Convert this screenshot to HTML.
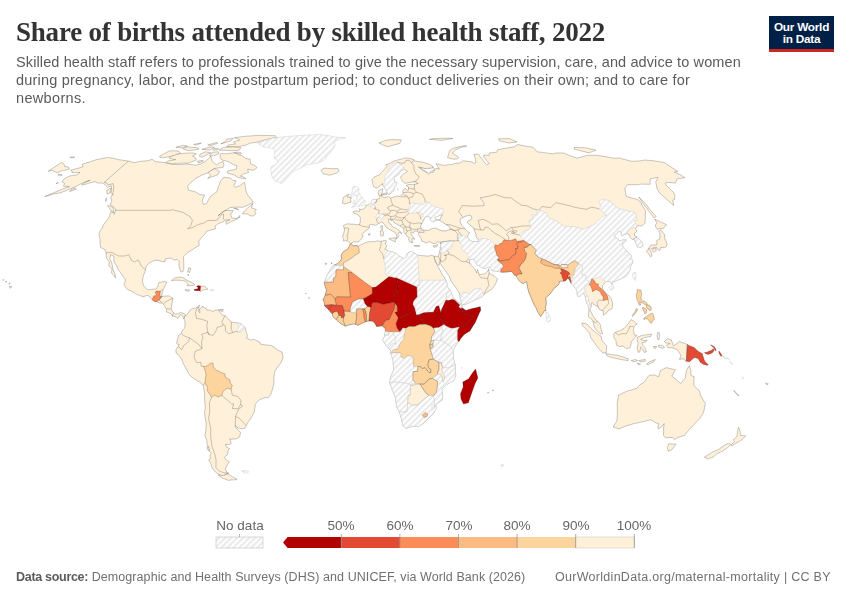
<!DOCTYPE html>
<html><head><meta charset="utf-8">
<style>
html,body{margin:0;padding:0;background:#fff;width:850px;height:600px;overflow:hidden;position:relative;font-family:"Liberation Sans",sans-serif}
.t{position:absolute;white-space:nowrap;will-change:transform}
#title{left:16px;top:17px;font-family:"Liberation Serif",serif;font-weight:bold;font-size:27px;color:#333;letter-spacing:-0.208px}
.sub{left:16px;font-size:14.5px;color:#5b5b5b;line-height:18px}
#logo{position:absolute;left:769px;top:16px;width:65px;height:33px;background:#002147;border-bottom:3px solid #ce261e;color:#fff;font-weight:bold;font-size:11.8px;line-height:12.2px;text-align:center}
#logo div{padding-top:4.5px;letter-spacing:-0.25px}
.lg{font-size:13.5px;color:#666;transform:translateX(-50%)}
.foot{top:570px;font-size:12.5px;color:#707070}
svg{position:absolute;left:0;top:0}
.cs{stroke:#000;stroke-opacity:0.42;stroke-width:0.5}
.hs{stroke:#cfcfcf;stroke-width:0.5}
.ws{stroke:#8f8a86;stroke-width:0.5}
.bl{fill:none;stroke:#000;stroke-opacity:0.42;stroke-width:0.5}
</style></head><body>
<div id="title" class="t">Share of births attended by skilled health staff, 2022</div>
<div class="t sub" style="top:53px;letter-spacing:0.112px">Skilled health staff refers to professionals trained to give the necessary supervision, care, and advice to women</div>
<div class="t sub" style="top:71px;letter-spacing:0.209px">during pregnancy, labor, and the postpartum period; to conduct deliveries on their own; and to care for</div>
<div class="t sub" style="top:89px;letter-spacing:0.33px">newborns.</div>
<div id="logo"><div>Our World<br>in Data</div></div>
<svg width="850" height="600" viewBox="0 0 850 600">
<defs>
<pattern id="hatch" patternUnits="userSpaceOnUse" width="4.24" height="4.24" patternTransform="rotate(45)">
<rect width="4.24" height="4.24" fill="#ffffff"/>
<rect x="0" y="0" width="2.1" height="4.24" fill="#eaeaea"/>
</pattern>
</defs>
<g id="map">
<path d="M70.7,170.1L79.9,167.8L82.9,166.7L82.4,164.0L90.8,161.6L96.5,159.6L107.5,157.5L113.6,158.3L118.3,159.6L128.4,161.1L134.0,162.7L140.6,161.3L148.0,160.7L152.3,159.2L155.3,161.6L164.4,162.5L170.4,164.0L178.3,164.7L186.5,164.0L195.7,165.2L200.5,164.0L205.5,161.3L210.8,156.4L212.2,161.3L216.4,164.7L223.0,161.3L224.0,164.7L223.0,167.4L214.1,168.5L209.1,172.4L201.3,175.4L194.7,178.9L187.6,186.0L188.5,190.2L194.8,191.6L199.8,194.5L204.7,195.0L202.2,200.2L203.5,204.5L206.4,203.7L210.3,196.5L217.0,191.6L218.3,186.8L220.4,181.3L223.7,177.3L230.5,178.0L232.8,180.3L236.2,180.8L233.8,185.6L235.8,187.3L239.1,186.0L244.5,182.4L245.3,186.8L246.1,191.6L247.6,194.8L250.9,199.0L253.2,202.0L249.7,204.2L243.0,207.2L234.1,207.2L229.9,207.7L223.5,211.5L217.9,215.9L224.9,210.5L233.3,210.5L230.9,213.6L231.0,215.9L231.5,217.9L236.5,218.4L239.9,217.4L239.6,215.6L236.6,219.4L231.4,221.5L226.2,224.3L225.8,221.5L229.9,219.7L225.0,220.2L223.8,221.5L218.4,223.5L215.0,226.1L215.7,228.7L212.2,229.7L206.6,231.3L206.0,232.6L203.0,236.2L201.3,237.8L198.8,241.1L199.1,245.6L196.1,247.1L192.7,249.5L187.6,252.6L183.5,256.8L183.8,263.5L183.8,269.8L182.7,271.9L180.9,271.9L180.0,269.5L178.8,265.1L179.3,261.7L177.1,259.4L174.0,260.2L171.8,258.3L168.1,258.3L165.3,258.9L165.1,261.7L162.2,261.7L158.7,260.4L155.2,260.2L152.8,261.2L148.4,263.8L146.1,266.4L145.5,270.1L143.2,276.3L142.4,281.3L143.6,285.5L145.1,287.5L147.8,289.9L153.1,289.1L156.0,289.1L158.0,286.0L158.7,282.6L164.3,281.5L166.9,282.1L164.4,287.0L162.6,291.2L161.8,295.4L160.6,296.4L165.8,296.1L169.3,295.9L172.9,298.5L172.0,302.9L171.1,308.9L172.5,311.5L175.4,314.1L178.1,313.6L180.5,312.6L183.9,313.4L185.4,315.2L183.9,318.8L182.8,316.2L180.4,314.4L177.9,318.6L175.7,316.7L172.3,316.0L170.8,313.6L166.3,311.8L166.3,308.9L163.3,304.0L162.2,302.9L159.9,303.2L157.3,301.9L153.9,301.1L152.2,299.8L149.2,296.1L147.5,295.4L143.0,296.7L138.7,295.1L135.6,293.8L131.7,291.2L128.0,289.9L125.7,287.3L123.9,284.4L125.3,281.3L125.1,278.7L123.5,277.1L119.8,271.6L118.1,269.8L116.8,265.9L114.0,262.0L113.8,256.2L110.6,254.7L109.8,258.9L111.9,263.3L112.8,268.5L113.7,271.1L115.2,274.5L115.5,277.9L114.3,276.1L111.5,272.9L112.0,269.0L108.7,265.4L109.3,262.2L106.9,258.9L106.2,255.2L106.2,252.9L104.6,249.5L100.6,247.4L100.0,242.2L100.1,239.1L99.0,235.9L99.3,232.3L102.1,228.2L102.9,225.6L109.0,217.4L110.9,211.8L114.0,212.3L114.0,214.3L115.7,210.3L115.3,208.7L112.9,206.5L110.2,204.7L111.8,201.5L110.8,197.0L112.5,194.5L111.1,192.8L111.6,189.2L111.4,185.8L107.4,187.5L104.7,184.3L102.5,183.1L97.9,183.1L94.9,181.7L90.2,182.7L86.4,184.1L81.5,185.1L86.0,181.5L90.1,180.3L82.3,183.1L75.9,186.5L68.2,189.7L60.6,192.8L53.5,194.0L47.9,195.8L44.8,196.5L52.4,193.3L63.3,188.7L69.4,186.5L63.5,186.3L64.5,183.4L62.0,181.7L64.1,178.9L69.1,176.1L76.8,174.9L80.1,172.4L76.1,172.6L71.9,172.6L72.1,171.0Z" fill="#fef0d9" class="cs"/>
<path d="M107.7,205.7L108.9,207.7L111.0,210.8L113.4,212.1L113.8,209.5L112.5,207.2L109.1,205.5Z" fill="#fef0d9" class="cs"/>
<path d="M245.9,178.9L244.4,177.3L240.5,176.1L244.0,173.8L248.5,172.6L247.7,169.2L253.2,170.3L257.0,167.8L255.5,165.8L250.6,164.0L250.1,159.2L245.7,158.5L242.6,156.0L238.1,154.5L235.8,152.4L225.9,153.9L220.8,153.3L219.9,157.1L221.6,159.8L226.5,161.1L229.2,162.0L233.3,164.7L236.8,165.8L236.4,169.2L227.5,171.0L227.8,173.3L234.0,174.9L238.7,177.7Z" fill="#fef0d9" class="cs"/>
<path d="M169.6,157.1L175.2,154.3L183.6,153.3L191.9,152.9L196.4,153.9L192.6,156.0L196.1,158.1L196.0,160.2L188.1,163.1L181.4,163.1L172.3,163.8L165.9,162.7L167.4,161.1L175.7,159.6L169.5,158.5Z" fill="#fef0d9" class="cs"/>
<path d="M159.7,156.1L164.6,153.5L168.7,151.2L173.1,150.7L178.9,151.2L180.4,152.9L174.9,155.0L169.0,156.9L163.1,157.7L160.1,157.5Z" fill="#fef0d9" class="cs"/>
<path d="M226.7,146.6L235.4,147.0L245.4,145.3L250.6,143.0L256.2,142.4L266.0,139.6L276.6,137.3L275.3,135.7L260.7,135.3L246.0,136.2L234.3,137.7L238.1,139.1L239.7,140.1L233.3,142.0L235.6,143.9L228.6,144.9Z" fill="#fef0d9" class="cs"/>
<path d="M220.8,143.9L230.8,141.0L233.2,138.5L226.9,139.0L224.6,142.0Z" fill="#fef0d9" class="cs"/>
<path d="M238.1,150.5L231.7,150.7L219.0,150.1L223.8,147.2L233.8,147.0L240.9,147.6L239.9,149.3Z" fill="#fef0d9" class="cs"/>
<path d="M182.8,148.7L187.1,146.8L197.9,147.8L198.9,149.3L188.0,150.7Z" fill="#fef0d9" class="cs"/>
<path d="M202.0,149.3L210.6,146.8L214.4,147.4L209.7,150.1Z" fill="#fef0d9" class="cs"/>
<path d="M202.0,157.1L210.9,152.9L205.6,151.8L199.9,154.3L199.4,156.4Z" fill="#fef0d9" class="cs"/>
<path d="M209.5,156.0L213.6,156.0L219.1,153.5L218.2,151.8L212.3,152.2Z" fill="#fef0d9" class="cs"/>
<path d="M198.4,162.9L203.0,161.3L203.1,160.2L197.2,161.3Z" fill="#fef0d9" class="cs"/>
<path d="M207.7,178.4L217.5,174.9L219.7,171.4L214.3,168.7L208.2,172.4L210.6,175.4Z" fill="#fef0d9" class="cs"/>
<path d="M242.4,213.8L248.0,214.1L249.6,215.6L253.1,216.1L256.0,213.8L254.8,211.5L256.4,209.5L251.8,208.0L252.2,203.7L253.2,203.7L247.9,207.7L244.2,211.3Z" fill="#fef0d9" class="cs"/>
<path d="M233.7,208.2L238.7,210.0L237.5,208.7Z" fill="#fef0d9" class="cs"/>
<path d="M69.5,191.6L76.3,189.2L75.3,188.0L71.3,189.4Z" fill="#fef0d9" class="cs"/>
<path d="M106.3,197.8L105.9,201.5L105.9,200.2Z" fill="#fef0d9" class="cs"/>
<path d="M110.9,188.0L110.2,192.8L107.2,194.0L106.7,190.4Z" fill="#fef0d9" class="cs"/>
<path d="M57.6,174.9L62.0,175.6L61.1,174.0Z" fill="#fef0d9" class="cs"/>
<path d="M57.7,182.2L58.4,183.1L56.0,183.6Z" fill="#fef0d9" class="cs"/>
<path d="M171.4,280.5L174.9,277.9L178.4,277.1L182.4,277.4L188.1,280.8L191.9,282.3L195.0,284.7L192.0,285.7L187.0,285.7L188.3,283.9L185.7,281.3L179.1,280.2L175.7,280.2Z" fill="#fef0d9" class="cs"/>
<path d="M200.5,286.0L204.4,286.1L207.9,289.1L205.2,289.6L202.9,290.1L200.7,291.7L200.1,290.7Z" fill="#fef0d9" class="cs"/>
<path d="M200.5,286.0L198.1,285.6L196.5,286.4L198.1,287.3L197.8,288.8L194.0,289.4L194.4,290.4L198.3,290.7L200.1,290.7Z" fill="#b30000" class="cs"/>
<path d="M185.1,289.5L189.9,290.1L188.5,291.1L186.2,291.1Z" fill="#fef0d9" class="cs"/>
<path d="M210.4,289.4L214.0,289.6L213.7,290.7L210.3,290.7Z" fill="url(#hatch)" class="hs"/>
<path d="M188.8,267.7L190.9,268.5L189.6,272.4L187.6,271.9Z" fill="#fef0d9" class="cs"/>
<path d="M188.2,274.2L188.7,275.8L187.7,275.0Z" fill="#fef0d9" class="cs"/>
<path d="M281.9,183.6L287.0,178.4L291.6,172.6L297.7,169.6L306.9,164.7L318.3,162.9L325.8,159.2L327.5,155.0L330.4,152.9L332.6,149.7L335.0,145.8L334.4,142.0L338.7,139.3L346.0,137.7L335.1,137.0L327.4,135.4L319.6,134.5L308.5,135.0L297.1,135.7L287.0,136.5L279.4,137.3L271.3,138.5L266.9,140.1L257.2,143.0L259.9,144.9L262.8,146.8L269.7,147.8L273.6,148.7L274.8,151.8L274.6,155.0L273.7,158.1L277.6,160.2L276.9,163.6L271.2,166.9L270.6,170.3L271.1,173.3L272.2,177.3L274.5,180.8L278.6,182.0Z" fill="url(#hatch)" class="hs"/>
<path d="M9.5,286.2L11.9,286.8L9.9,288.3L9.8,287.0Z" fill="#fef0d9" class="cs"/>
<path d="M8.9,283.1L10.4,283.4L9.1,283.9Z" fill="#fef0d9" class="cs"/>
<path d="M2.8,279.7L3.9,279.7L3.2,280.5Z" fill="#fef0d9" class="cs"/>
<path d="M5.7,281.3L7.0,281.8L5.8,282.1Z" fill="#fef0d9" class="cs"/>
<path d="M175.9,147.2L183.3,145.3L187.4,146.0L181.9,147.8Z" fill="#fef0d9" class="cs"/>
<path d="M212.8,150.1L217.6,149.9L218.5,148.7L214.8,148.3Z" fill="#fef0d9" class="cs"/>
<path d="M193.7,144.3L201.4,143.0L196.3,145.1Z" fill="#fef0d9" class="cs"/>
<path d="M207.8,144.9L216.8,142.4L217.8,143.3L210.8,145.5Z" fill="#fef0d9" class="cs"/>
<path d="M234.3,153.3L241.6,154.1L240.5,152.4L236.0,152.2Z" fill="#fef0d9" class="cs"/>
<path d="M183.9,318.8L185.4,315.2L186.6,315.2L188.0,313.1L189.8,310.2L192.9,308.4L195.7,308.1L197.6,306.6L199.8,305.3L198.2,307.4L199.0,308.9L198.6,311.5L200.0,312.8L199.5,309.2L202.1,307.4L202.7,305.8L203.7,307.6L206.2,308.4L207.0,310.2L209.3,310.0L212.6,311.3L216.2,310.0L219.6,309.7L221.0,309.7L218.7,310.5L219.9,312.0L222.8,315.4L225.5,316.0L228.4,318.8L231.3,322.1L234.3,322.5L238.6,323.0L241.6,324.0L244.1,326.6L245.2,327.7L246.3,332.9L247.7,335.8L246.5,337.9L251.1,340.2L253.4,339.2L259.7,342.0L260.4,344.1L267.3,345.2L271.2,345.4L274.2,347.2L277.7,350.1L281.9,351.9L282.9,356.1L282.7,358.7L280.9,362.9L278.1,366.3L274.8,371.5L273.9,376.7L273.8,383.8L272.7,388.7L270.6,394.7L268.3,397.6L265.6,397.6L262.3,398.6L258.8,400.2L255.4,404.1L254.6,409.6L254.3,412.2L251.9,416.3L250.5,419.0L248.5,421.6L246.3,425.5L245.0,428.1L243.3,428.6L240.7,428.6L237.1,427.6L235.2,425.7L235.8,427.8L238.7,430.4L240.5,432.5L239.7,436.9L236.9,438.7L230.6,439.3L229.8,438.7L231.2,443.4L228.8,444.7L225.5,444.2L226.3,447.0L229.7,448.6L228.4,449.6L227.6,453.5L227.4,454.7L224.3,457.3L226.2,459.8L229.4,461.9L227.7,464.2L226.8,466.2L225.4,468.2L226.3,471.5L228.6,473.2L224.9,474.5L225.0,476.9L221.7,476.2L217.7,473.7L214.6,471.2L211.9,467.5L210.8,463.7L208.7,459.8L210.5,458.6L209.9,456.0L211.1,453.5L208.6,450.4L208.5,447.0L207.0,444.4L206.8,440.6L204.8,435.4L205.4,433.5L206.0,429.4L206.2,423.6L205.0,417.1L204.5,411.9L205.4,408.0L204.6,399.1L204.6,393.4L203.4,385.8L200.6,382.7L196.7,380.4L191.3,376.7L188.6,373.6L186.2,368.9L183.3,363.7L181.5,359.0L179.0,355.3L176.2,353.2L175.8,349.9L178.0,346.5L179.1,344.4L177.5,344.1L176.6,343.3L177.6,338.9L178.6,335.5L181.4,333.4L181.9,331.1L184.5,328.2L185.0,325.9L184.9,320.7Z" fill="#fef0d9" class="cs"/>
<path d="M228.4,474.0L232.7,476.9L237.1,479.2L234.9,479.9L231.4,479.9L228.4,480.4L222.6,478.2L218.2,475.0L224.3,475.4L225.8,474.5Z" fill="#fef0d9" class="cs"/>
<path d="M241.5,470.7L245.0,470.7L248.7,471.5L247.8,473.0L243.8,472.7Z" fill="url(#hatch)" class="hs"/>
<path d="M206.9,446.5L208.7,447.0L209.6,450.4L207.7,449.6Z" fill="#fef0d9" class="cs"/>
<path d="M221.0,309.4L223.3,309.4L223.0,311.3L220.9,311.3Z" fill="#fef0d9" class="cs"/>
<path d="M152.3,299.7L152.6,298.2L154.0,295.7L156.9,295.7L155.1,292.6L156.3,291.1L160.4,291.1L159.7,296.1L161.9,296.7L159.3,299.5L158.3,300.3L157.1,301.7L154.1,301.2Z" fill="#fc8d59" class="cs"/>
<path d="M203.4,366.2L205.7,366.5L208.6,365.0L210.3,363.2L213.1,363.2L213.3,366.8L215.8,369.9L219.3,371.5L221.6,372.8L224.7,373.6L225.3,377.0L230.1,380.1L230.2,383.2L232.3,385.1L231.1,389.2L227.2,388.2L223.1,391.3L221.8,395.5L218.1,397.1L214.5,395.2L211.6,397.1L208.9,393.1L207.3,390.8L207.4,387.1L204.9,383.2L205.3,379.8L205.5,377.5L206.1,375.4L205.3,371.2Z" fill="#fdd49e" class="cs"/>
<path d="M238.6,323.0L241.6,324.0L244.1,326.6L242.7,329.8L241.0,331.9L238.3,332.1L237.4,331.6L238.5,328.2L237.7,325.3Z" fill="url(#hatch)" class="hs"/>
<path d="M342.5,236.7L343.7,233.3L344.5,230.2L344.1,228.2L343.4,225.6L345.3,224.6L347.2,223.8L350.7,224.1L354.9,224.3L356.8,224.8L359.5,224.6L360.3,221.5L360.3,218.9L360.3,217.4L358.3,214.9L356.7,214.1L353.9,213.3L353.1,211.8L355.7,210.8L358.8,211.3L359.8,211.3L359.6,208.5L360.4,209.3L362.4,209.5L363.0,209.0L364.8,208.0L366.6,205.2L367.6,205.0L368.7,204.5L369.9,204.2L371.1,202.7L372.0,200.5L372.2,200.2L373.5,199.5L376.4,199.3L378.4,198.8L379.3,198.8L379.7,198.0L380.0,197.0L379.4,195.5L378.3,194.0L378.3,191.1L379.0,190.2L382.7,188.7L382.6,189.9L382.2,192.3L381.9,193.8L381.2,194.5L381.9,195.8L382.5,196.8L384.1,197.8L386.2,197.3L388.9,196.5L390.5,198.0L393.7,197.0L398.4,195.8L398.9,196.8L401.3,195.5L403.1,193.6L402.7,191.6L403.3,189.7L405.2,188.5L407.2,190.4L408.3,190.4L408.5,188.0L408.5,187.0L406.5,186.0L406.3,185.1L408.5,184.6L412.7,184.3L414.5,184.3L418.4,183.4L416.0,182.7L415.2,181.5L412.2,182.0L408.7,182.7L405.1,183.4L403.7,182.2L401.8,180.8L401.8,179.6L400.5,177.3L401.3,175.9L403.5,174.2L407.4,171.4L405.3,169.8L404.8,169.6L401.4,170.1L399.7,172.6L398.8,174.2L396.7,175.6L393.9,177.5L394.3,180.8L394.2,181.5L396.8,182.7L396.3,184.8L394.5,186.8L393.8,189.2L393.7,191.1L391.3,192.3L390.0,194.3L387.7,193.8L387.1,192.1L385.4,189.2L385.1,188.7L383.6,185.8L382.3,185.1L382.5,183.4L380.4,185.6L377.8,187.7L375.9,188.0L373.2,186.3L373.4,185.6L372.5,183.1L372.5,182.2L371.9,179.6L373.9,177.3L376.2,176.1L379.7,174.7L381.3,172.6L384.4,169.2L387.4,166.3L385.7,164.7L389.7,163.6L391.3,162.5L394.4,160.9L398.3,159.8L401.5,159.2L404.9,157.9L409.4,158.3L413.9,159.6L413.9,160.7L417.8,161.6L423.0,162.2L430.1,164.5L432.8,166.3L432.5,168.1L428.5,169.0L423.2,168.5L418.4,166.9L422.8,170.3L427.0,172.6L433.1,172.4L433.9,169.6L436.9,168.3L439.3,169.2L436.0,163.6L440.7,164.7L444.3,165.4L452.3,164.3L454.6,163.6L460.1,162.9L463.2,160.7L471.2,161.8L474.6,163.4L475.8,162.5L475.5,159.2L473.8,154.3L478.4,154.1L481.3,158.1L486.4,164.7L489.1,163.6L483.8,157.1L483.8,155.0L489.0,155.4L489.4,152.9L496.7,152.2L497.7,149.7L507.8,147.8L514.3,146.8L517.8,144.5L525.6,146.2L533.0,147.2L537.2,151.8L542.7,152.4L552.3,153.9L557.4,152.9L564.0,153.1L570.9,156.0L576.9,158.1L581.7,156.9L587.0,155.4L595.5,155.2L605.7,156.6L612.8,158.1L619.4,158.1L627.6,160.2L631.6,161.3L637.2,161.1L641.5,160.7L644.6,160.0L653.1,160.7L664.1,162.5L677.8,171.4L674.3,172.1L680.5,174.9L684.9,177.7L677.2,178.9L675.5,183.1L667.3,182.4L665.0,183.6L667.7,186.8L673.7,192.6L674.9,195.8L674.6,199.5L672.8,200.2L673.9,205.5L667.6,200.2L659.5,192.8L657.2,189.2L655.7,182.0L658.0,177.3L650.1,178.9L650.1,184.3L641.2,184.1L636.8,184.8L627.6,184.6L625.0,188.0L625.4,191.9L626.2,196.3L628.9,197.3L636.2,199.0L639.2,200.5L641.9,204.0L641.3,204.2L645.3,210.3L645.4,215.9L645.1,223.0L641.8,226.1L638.0,225.4L636.7,227.4L635.6,228.7L636.9,231.3L634.5,233.3L634.4,235.4L636.9,237.0L641.1,240.9L642.7,243.7L642.8,246.1L640.1,247.4L637.5,246.9L636.2,243.7L634.6,239.8L631.9,239.1L630.0,237.2L629.2,234.6L627.0,233.6L623.4,234.6L622.2,236.2L621.3,234.6L621.5,232.1L618.7,231.3L616.7,233.9L613.8,235.9L616.4,238.0L618.1,239.3L619.8,240.9L623.4,239.8L626.4,240.1L622.9,243.5L621.9,245.6L624.5,248.2L627.5,252.3L630.7,254.9L631.4,256.8L630.1,258.6L632.7,259.9L632.5,263.3L631.1,264.6L630.1,268.0L630.1,269.8L628.6,272.7L627.6,274.0L625.2,276.8L621.6,278.4L620.0,279.5L618.5,279.7L615.4,281.0L612.2,282.3L612.0,284.7L610.3,281.5L607.5,281.3L606.4,281.5L604.1,283.6L602.6,285.7L602.4,288.8L604.7,292.0L607.4,294.6L609.1,295.6L611.1,298.2L612.4,302.4L612.6,306.3L611.7,308.9L608.2,310.5L607.0,312.6L603.3,315.2L603.2,310.7L599.9,310.0L598.6,307.6L597.0,306.0L593.7,304.5L592.3,302.4L591.3,303.2L591.3,306.3L590.1,310.2L591.9,313.4L593.0,316.0L595.5,319.6L597.9,321.4L600.6,325.1L600.7,327.7L601.7,331.1L602.7,333.7L601.3,334.2L598.1,331.9L595.9,329.8L594.2,326.4L593.4,323.5L592.8,320.7L591.8,319.3L588.7,317.3L588.3,314.1L588.9,311.5L588.4,306.3L586.6,302.4L584.8,294.6L583.3,293.3L581.6,294.1L579.8,296.4L577.3,295.9L577.2,292.0L575.8,288.1L572.9,285.2L571.0,282.8L570.4,281.8L569.6,279.5L567.6,278.1L565.7,280.5L563.5,281.0L561.7,281.0L559.1,281.5L559.0,284.1L557.0,286.0L554.9,287.5L551.9,291.4L550.0,294.1L547.3,296.4L545.6,298.0L546.3,303.4L545.5,307.6L545.9,310.7L544.3,310.7L542.2,314.4L540.7,316.5L537.5,311.5L536.4,308.4L533.8,304.0L531.0,297.2L528.8,292.0L527.8,288.1L527.1,284.1L526.6,281.5L523.2,283.6L520.8,282.3L518.2,279.5L520.8,277.9L519.2,278.1L516.8,276.3L514.4,275.0L513.0,272.9L511.7,271.4L507.3,271.9L502.4,272.2L498.5,271.6L494.4,270.8L492.1,270.8L490.2,267.7L488.2,266.7L485.1,268.5L482.1,267.7L479.9,266.2L477.1,264.9L475.5,262.2L473.8,259.4L470.3,259.4L469.2,262.0L470.6,264.6L473.1,267.2L474.7,268.8L475.8,271.1L476.7,272.9L477.4,269.5L478.3,271.6L478.6,273.7L480.6,274.5L484.8,273.7L486.7,271.9L488.1,270.6L488.5,268.8L489.2,272.7L490.0,274.0L494.5,276.1L497.5,278.9L495.5,284.1L493.7,286.8L491.6,289.4L485.5,293.3L481.7,296.9L474.8,299.8L470.1,302.4L465.7,304.2L462.2,304.5L461.5,302.9L460.4,299.0L459.7,294.8L459.4,293.5L456.2,288.1L453.2,284.1L451.2,281.5L449.3,276.3L448.1,274.8L445.6,271.1L441.8,265.9L440.3,263.3L440.3,260.7L439.4,263.3L439.1,265.4L436.5,263.3L434.7,259.4L433.9,256.0L437.2,256.5L438.3,255.7L439.2,253.9L439.4,252.1L440.2,249.2L440.6,247.4L440.4,245.0L440.3,243.2L440.8,242.2L439.3,242.2L437.3,241.7L435.2,243.5L433.0,243.5L428.9,241.4L426.5,243.2L423.8,241.7L421.8,241.1L421.1,238.5L420.1,237.2L419.0,235.4L418.3,234.6L418.8,233.1L418.2,231.8L417.5,231.3L414.5,231.0L413.3,233.3L411.2,231.8L410.8,233.3L411.6,235.2L412.5,236.5L414.2,238.0L414.3,239.6L413.4,238.5L411.9,238.8L411.8,239.8L412.9,242.7L411.3,241.9L411.3,242.7L410.0,241.7L409.5,241.7L408.5,239.3L409.2,237.8L407.7,237.0L407.0,236.2L405.8,234.6L405.3,234.1L403.9,232.3L403.7,230.0L403.8,228.7L402.9,227.9L400.7,226.6L396.9,224.3L394.3,222.8L392.7,219.9L392.5,219.7L391.3,221.0L390.6,219.2L391.0,218.9L388.1,219.4L388.6,220.5L389.0,223.0L390.9,224.1L392.5,226.9L396.6,228.4L398.5,230.5L400.7,231.8L401.9,233.9L399.2,232.1L397.9,234.4L399.2,235.7L398.1,237.5L396.4,238.8L397.0,236.7L395.9,233.1L393.0,231.3L390.2,230.0L388.4,228.7L386.1,227.2L384.2,224.3L383.1,222.8L381.2,222.0L379.4,223.3L378.0,223.8L375.7,225.4L374.1,224.8L372.2,224.6L370.9,224.3L369.1,225.1L369.7,227.4L367.4,229.7L364.7,231.5L362.2,234.6L363.2,236.7L361.7,237.8L360.7,239.6L358.5,241.9L353.3,241.9L351.1,243.5L350.7,243.7L349.2,242.4L346.9,240.6L343.4,241.1L343.7,238.5Z" fill="#fef0d9" class="cs"/>
<path d="M61.5,162.5L63.5,163.4L64.5,165.2L64.7,166.5L68.3,166.9L69.4,169.0L65.2,170.3L62.6,170.3L57.9,172.8L55.1,171.9L52.1,170.3L48.2,171.2Z" fill="#fef0d9" class="cs"/>
<path d="M69.8,157.5L73.1,157.9L74.9,157.1L70.9,156.9Z" fill="#fef0d9" class="cs"/>
<path d="M424.0,230.2L428.6,230.5L432.1,228.4L436.5,228.2L439.3,230.0L443.1,231.0L446.6,230.8L450.3,229.2L449.7,226.9L445.4,224.1L441.0,221.2L438.2,219.7L435.9,220.5L433.6,221.7L432.1,221.5L429.7,219.4L431.5,217.9L428.2,216.6L425.6,216.6L423.8,219.9L422.3,222.3L421.0,225.1L420.4,226.9L421.7,229.2Z" fill="#ffffff" class="ws"/>
<path d="M435.7,219.7L434.5,217.4L437.9,216.1L440.8,215.1L442.6,214.9L441.0,217.1L440.1,219.7L438.2,219.7Z" fill="#ffffff" class="ws"/>
<path d="M468.5,232.3L469.6,232.6L468.0,235.2L467.4,237.5L469.1,239.8L472.6,241.7L478.8,241.4L478.6,240.1L476.0,236.7L476.0,234.6L475.0,232.1L473.8,228.7L472.7,226.9L469.8,225.1L467.0,222.0L468.5,220.5L471.0,219.7L471.8,217.4L470.9,215.6L468.6,215.4L465.0,216.4L462.3,217.9L460.5,218.9L460.1,221.7L462.0,225.6L464.1,227.9L466.5,230.2Z" fill="#ffffff" class="ws"/>
<path d="M419.1,232.3L421.1,232.6L424.2,232.3L424.0,230.8L420.9,230.8L419.7,231.8Z" fill="#ffffff" class="ws"/>
<path d="M420.0,167.3L425.0,168.5L430.0,168.2L433.8,167.7L434.6,170.4L431.2,171.0L428.8,174.3L426.7,171.8L423.3,170.0Z" fill="#ffffff" class="ws"/>
<path d="M351.4,207.5L356.8,206.2L360.8,206.0L365.6,205.0L364.6,203.7L366.1,201.0L363.4,200.2L363.0,198.8L361.8,196.5L359.9,194.0L359.0,192.8L358.1,191.6L359.4,189.0L356.7,186.5L353.5,186.5L352.1,189.2L352.3,192.1L351.3,193.3L353.4,195.3L357.0,195.5L356.6,197.8L357.0,199.5L353.6,200.7L354.6,202.0L352.3,203.2L356.9,204.2L353.9,204.7Z" fill="url(#hatch)" class="hs"/>
<path d="M352.2,197.0L351.3,194.8L349.0,194.5L347.0,196.5L349.2,197.5L351.2,197.8Z" fill="url(#hatch)" class="hs"/>
<path d="M351.0,202.2L350.7,199.5L351.2,197.8L349.2,197.5L347.0,196.5L349.0,194.5L346.5,195.0L343.4,197.5L342.9,200.2L342.5,203.2L344.0,204.0L347.0,203.2Z" fill="#fef0d9" class="cs"/>
<path d="M323.0,173.8L321.0,170.3L324.1,168.1L332.6,168.7L337.8,168.5L339.2,171.0L336.4,173.1L329.9,175.2L325.6,174.2Z" fill="#fef0d9" class="cs"/>
<path d="M378.9,143.0L385.8,140.4L391.3,139.6L401.3,139.8L399.7,143.5L394.1,144.9L387.8,146.8L383.7,145.3Z" fill="#fef0d9" class="cs"/>
<path d="M447.5,157.5L453.3,159.2L457.3,159.0L458.6,157.1L452.2,152.9L455.8,149.7L461.6,147.2L466.7,146.0L463.5,145.8L453.2,148.2L449.4,150.7L448.8,153.9Z" fill="#fef0d9" class="cs"/>
<path d="M499.9,141.0L509.5,143.0L517.0,142.0L509.3,138.5L498.4,138.8Z" fill="#fef0d9" class="cs"/>
<path d="M574.2,149.1L589.0,152.9L596.0,150.1L585.7,147.8L574.3,147.4Z" fill="#fef0d9" class="cs"/>
<path d="M429.5,139.3L441.8,140.4L452.9,138.5L447.0,138.2L433.2,138.5Z" fill="#fef0d9" class="cs"/>
<path d="M380.8,225.9L382.4,225.6L382.7,227.9L382.2,229.7L380.9,228.4Z" fill="#fef0d9" class="cs"/>
<path d="M380.1,231.0L382.4,230.2L383.5,232.1L383.3,235.7L381.8,236.2L380.7,235.7L380.6,232.6Z" fill="#fef0d9" class="cs"/>
<path d="M389.4,238.3L396.2,237.8L395.3,241.1L395.3,241.9L389.4,239.3Z" fill="#fef0d9" class="cs"/>
<path d="M413.8,245.6L419.8,245.6L419.5,246.3L414.9,246.3Z" fill="#fef0d9" class="cs"/>
<path d="M432.9,246.1L437.7,244.5L436.7,246.6L434.6,247.4Z" fill="#fef0d9" class="cs"/>
<path d="M383.6,193.6L386.8,192.8L386.6,195.0L384.3,194.8Z" fill="#fef0d9" class="cs"/>
<path d="M381.4,194.0L383.5,194.0L383.2,195.3L381.6,195.0Z" fill="#fef0d9" class="cs"/>
<path d="M367.9,234.4L370.2,233.6L369.6,235.2Z" fill="#fef0d9" class="cs"/>
<path d="M396.9,189.7L398.0,188.2L398.1,190.4Z" fill="url(#hatch)" class="hs"/>
<path d="M383.6,185.8L384.8,182.0L385.1,179.6L384.6,176.1L387.4,172.6L388.8,169.2L390.8,165.2L393.6,163.6L396.3,162.5L397.2,162.2L401.7,164.7L403.4,166.9L404.8,169.6L401.4,170.1L399.7,172.6L398.8,174.2L396.7,175.6L393.9,177.5L394.3,180.8L394.2,181.5L396.8,182.7L396.3,184.8L394.5,186.8L393.8,189.2L393.7,191.1L391.3,192.3L390.0,194.3L387.7,193.8L387.1,192.1L385.4,189.2L385.1,188.7Z" fill="url(#hatch)" class="hs"/>
<path d="M375.3,217.4L377.0,214.1L378.2,213.8L380.2,213.3L382.3,214.1L384.2,215.6L383.7,217.1L381.3,218.4L380.0,217.1L377.2,218.2Z" fill="url(#hatch)" class="hs"/>
<path d="M369.5,204.2L371.1,202.7L372.0,200.5L372.2,200.2L373.5,199.5L376.8,199.5L376.5,202.0L374.6,203.0L375.1,204.7L374.3,205.7L372.7,204.0L371.3,204.2Z" fill="url(#hatch)" class="hs"/>
<path d="M367.8,205.0L369.5,204.2L371.3,204.2L372.7,204.0L374.3,205.7L375.1,206.5L374.4,209.0L372.4,207.7L371.2,207.0Z" fill="url(#hatch)" class="hs"/>
<path d="M407.6,211.8L408.9,210.3L408.3,208.7L410.5,205.7L410.2,203.7L413.0,203.0L418.1,203.7L423.2,204.5L425.4,202.5L429.2,202.0L430.9,204.5L433.2,206.2L438.8,207.7L443.0,208.7L443.4,212.8L440.6,215.1L437.9,216.1L434.5,217.4L435.7,219.7L438.2,219.4L435.9,220.5L433.6,221.7L432.1,221.5L429.7,219.4L431.5,217.9L428.2,216.6L425.6,216.6L423.7,219.4L420.8,219.2L421.9,216.9L424.1,216.6L420.4,212.3L416.6,212.1L413.3,213.6L409.2,212.8Z" fill="url(#hatch)" class="hs"/>
<path d="M501.4,464.4L504.2,464.9L502.7,466.5L500.8,466.2Z" fill="url(#hatch)" class="hs"/>
<path d="M350.0,244.3L351.3,244.0L353.3,245.8L356.3,245.6L358.0,246.1L362.8,244.0L366.0,242.4L369.3,241.7L373.6,241.7L376.8,240.9L381.3,241.4L384.1,240.4L386.5,240.9L385.5,243.0L385.7,244.3L386.9,245.8L386.3,247.1L384.8,249.2L386.8,249.7L387.9,251.0L391.7,251.8L396.1,253.1L399.3,256.2L403.7,258.6L406.9,256.8L406.9,253.9L409.8,251.8L412.3,252.1L415.5,253.9L417.8,255.2L422.6,255.7L428.6,256.2L431.0,255.2L433.9,256.0L434.7,259.4L435.0,260.7L436.1,263.3L438.1,266.7L442.5,275.0L443.0,275.3L446.0,280.2L447.1,284.1L447.0,286.5L450.4,290.7L452.8,296.9L456.8,301.1L460.4,303.7L461.3,304.5L462.1,306.3L461.8,307.6L462.4,308.1L465.9,310.5L472.7,308.4L475.4,308.1L480.2,306.8L480.6,310.5L479.3,312.8L477.6,316.7L475.4,322.0L474.3,323.8L472.1,327.2L469.8,331.1L467.1,332.4L464.1,334.5L460.7,338.6L458.6,342.0L456.9,343.6L454.1,348.3L453.0,349.9L453.1,355.3L453.5,358.5L454.9,364.5L455.4,365.0L455.4,371.5L455.7,375.4L453.8,380.6L446.8,384.3L441.8,389.2L442.6,395.0L442.5,399.7L436.7,403.8L435.7,405.4L436.2,407.7L434.0,412.7L431.4,415.6L424.1,422.9L418.6,426.3L411.8,426.3L406.3,428.3L402.9,426.0L402.2,422.3L401.0,417.1L399.4,412.2L396.7,407.0L395.4,397.3L392.2,389.7L389.6,382.7L390.6,377.2L393.7,369.9L393.1,360.5L390.8,353.2L391.1,352.5L390.9,350.6L389.9,350.1L388.3,347.8L385.8,345.2L383.5,341.3L382.8,339.2L384.4,336.6L384.4,335.0L385.4,331.6L385.4,329.8L384.9,327.2L383.5,327.2L382.6,325.6L380.1,326.1L376.6,326.4L375.4,324.0L373.1,321.2L370.6,320.9L369.0,320.9L366.5,321.4L365.6,321.7L362.3,323.1L358.0,325.3L355.7,324.3L353.6,323.8L349.0,324.8L345.5,326.1L341.0,323.8L338.0,321.2L336.4,319.6L334.1,318.0L332.5,315.4L332.3,313.9L331.4,312.8L330.0,311.5L328.4,309.2L325.7,307.1L324.6,305.4L324.4,302.4L322.9,299.3L323.8,298.7L325.2,295.4L326.5,290.4L325.4,286.8L324.3,283.4L325.6,278.9L326.9,275.8L330.4,269.5L333.4,265.4L337.3,263.8L340.7,260.7L341.6,258.3L341.2,255.5L342.4,252.9L344.2,251.0L346.2,250.0L348.0,248.9L349.3,246.3Z" fill="#fef0d9" class="cs"/>
<path d="M325.3,263.0L326.8,263.8L325.5,264.6Z" fill="#fef0d9" class="cs"/>
<path d="M331.3,262.8L332.2,262.8L331.7,264.1Z" fill="#fef0d9" class="cs"/>
<path d="M308.6,297.7L309.5,297.7L309.2,298.7Z" fill="#fef0d9" class="cs"/>
<path d="M305.5,293.0L306.2,293.3L305.7,293.8Z" fill="#fef0d9" class="cs"/>
<path d="M492.7,389.7L493.5,390.0L492.8,391.1Z" fill="#fef0d9" class="cs"/>
<path d="M487.7,392.1L488.8,392.6L488.0,393.4Z" fill="#fef0d9" class="cs"/>
<path d="M461.7,367.3L462.3,368.4L461.9,368.6Z" fill="url(#hatch)" class="hs"/>
<path d="M358.0,246.1L356.3,245.6L353.3,245.8L351.3,244.0L350.0,244.3L349.3,246.3L348.0,248.9L346.2,250.0L344.2,251.0L342.4,252.9L341.2,255.5L341.6,258.3L340.7,260.7L337.3,263.8L333.4,265.4L343.4,265.4L343.5,262.8L351.8,258.1L354.9,255.2L359.1,252.9L359.1,248.9Z" fill="#fdd49e" class="cs"/>
<path d="M333.4,265.4L330.4,269.5L326.9,275.8L325.6,278.9L324.3,283.4L324.5,282.1L333.5,282.1L333.3,278.1L335.8,276.3L336.0,269.8L343.4,269.8L343.4,265.4Z" fill="url(#hatch)" class="hs"/>
<path d="M324.5,282.1L324.3,283.4L325.4,286.8L326.5,290.4L325.2,295.4L331.0,294.3L335.0,299.0L336.8,296.9L350.7,297.2L350.3,294.8L348.2,272.7L352.0,272.4L343.4,266.4L343.4,269.8L336.0,269.8L335.8,276.3L333.3,278.1L333.5,282.1Z" fill="#fdbb84" class="cs"/>
<path d="M325.2,295.4L323.8,298.7L322.9,299.3L324.4,302.4L324.6,305.4L331.5,304.7L336.7,305.3L335.0,299.0L331.0,294.3Z" fill="#fdbb84" class="cs"/>
<path d="M324.6,305.4L325.7,307.1L328.4,309.2L331.4,307.1L331.5,304.7Z" fill="#e34a33" class="cs"/>
<path d="M328.4,309.2L330.0,311.5L331.4,312.8L332.3,313.9L334.1,312.0L337.1,311.5L338.3,313.4L338.7,315.7L341.0,315.4L341.4,318.0L343.7,317.5L344.9,315.4L344.0,311.0L344.2,310.7L342.2,305.3L336.7,305.3L331.5,304.7L331.4,307.1Z" fill="#e34a33" class="cs"/>
<path d="M332.3,313.9L332.5,315.4L334.1,318.0L336.4,319.6L338.7,315.7L338.3,313.4L337.1,311.5L334.1,312.0Z" fill="#fdd49e" class="cs"/>
<path d="M336.4,319.6L338.0,321.2L341.0,323.8L345.5,326.1L343.3,320.7L343.7,317.5L341.4,318.0L341.0,315.4L338.7,315.7Z" fill="#fdd49e" class="cs"/>
<path d="M345.5,326.1L349.0,324.8L353.6,323.8L355.7,324.3L356.4,319.3L356.6,312.8L352.0,312.3L350.2,311.3L344.0,311.0L344.9,315.4L343.7,317.5L343.3,320.7Z" fill="#fdd49e" class="cs"/>
<path d="M350.2,311.3L352.0,312.3L356.6,312.8L356.4,308.9L362.8,308.7L364.9,308.9L367.6,306.6L365.1,303.7L363.3,298.7L358.2,299.0L352.3,301.9L350.2,308.4Z" fill="url(#hatch)" class="hs"/>
<path d="M335.0,299.0L336.7,305.3L342.2,305.3L344.2,310.7L344.0,311.0L350.2,311.3L350.2,308.4L352.3,301.9L358.2,299.0L363.3,298.7L365.8,297.7L372.4,293.8L372.3,287.5L365.5,282.8L352.0,272.4L348.2,272.7L350.3,294.8L350.7,297.2L336.8,296.9Z" fill="#fc8d59" class="cs"/>
<path d="M355.7,324.3L358.0,325.3L362.3,323.1L365.6,321.7L364.2,318.0L363.9,314.1L362.8,308.7L356.4,308.9L356.6,312.8L356.4,319.3Z" fill="#fdbb84" class="cs"/>
<path d="M365.6,321.7L366.5,321.4L366.5,314.1L364.9,308.9L362.8,308.7L363.9,314.1L364.2,318.0Z" fill="#fc8d59" class="cs"/>
<path d="M366.5,321.4L369.0,320.9L369.7,312.8L371.0,307.1L367.6,306.6L364.9,308.9L366.5,314.1Z" fill="#fdd49e" class="cs"/>
<path d="M369.0,320.9L370.6,320.9L373.1,321.2L375.4,324.0L376.6,326.4L380.1,326.1L382.6,325.6L384.0,323.0L385.8,320.4L389.4,319.6L391.5,314.7L394.2,308.9L395.2,303.4L393.9,301.9L390.2,302.7L383.4,304.2L377.6,302.4L372.2,302.4L371.0,307.1L369.7,312.8Z" fill="#e34a33" class="cs"/>
<path d="M372.3,287.5L372.4,293.8L365.8,297.7L363.3,298.7L365.1,303.7L367.6,306.6L371.0,307.1L372.2,302.4L377.6,302.4L383.4,304.2L390.2,302.7L393.9,301.9L393.8,300.1L397.6,292.0L398.3,285.5L396.5,277.6L394.3,277.6L389.5,276.3L375.9,287.0Z" fill="#b30000" class="cs"/>
<path d="M396.5,277.6L417.1,286.8L417.5,296.7L413.9,301.1L413.1,304.2L415.2,308.4L415.3,309.2L408.7,313.9L406.2,314.7L401.8,317.5L398.4,318.0L395.8,314.1L394.7,312.6L397.4,311.5L397.2,308.9L397.1,306.0L395.2,303.4L393.9,301.9L393.8,300.1L397.6,292.0L398.3,285.5Z" fill="#b30000" class="cs"/>
<path d="M382.6,325.6L383.5,327.2L384.9,327.2L385.4,329.8L385.4,331.6L388.8,331.9L393.4,331.9L400.1,331.9L397.3,328.2L396.1,323.8L398.4,318.0L395.8,314.1L394.7,312.6L397.4,311.5L397.2,308.9L397.1,306.0L395.2,303.4L394.2,308.9L391.5,314.7L389.4,319.6L385.8,320.4L384.0,323.0Z" fill="#fc8d59" class="cs"/>
<path d="M398.4,318.0L396.1,323.8L397.3,328.2L400.1,331.9L403.1,328.0L405.6,328.5L408.8,326.4L414.6,326.6L419.2,324.6L425.8,324.3L420.7,319.3L418.3,315.2L416.7,314.9L415.3,309.2L408.7,313.9L406.2,314.7L401.8,317.5Z" fill="#b30000" class="cs"/>
<path d="M417.1,286.8L417.1,285.5L419.4,285.5L419.1,280.2L446.0,280.2L447.1,284.1L447.0,286.5L450.4,290.7L446.9,293.3L445.9,300.3L442.9,306.8L441.4,310.2L440.8,312.8L438.7,305.8L436.2,306.6L433.4,312.3L430.4,312.3L426.6,312.6L423.6,312.8L419.0,314.7L416.7,314.9L415.3,309.2L415.2,308.4L413.1,304.2L413.9,301.1L417.5,296.7Z" fill="url(#hatch)" class="hs"/>
<path d="M416.7,314.9L419.0,314.7L423.6,312.8L426.6,312.6L430.4,312.3L433.4,312.3L436.2,306.6L438.7,305.8L440.8,312.8L441.1,315.2L438.6,317.3L443.3,323.3L444.0,324.6L441.0,326.6L438.7,327.7L434.1,328.0L433.7,328.5L430.7,326.1L425.8,324.3L420.7,319.3L418.3,315.2Z" fill="#b30000" class="cs"/>
<path d="M445.9,300.3L446.9,293.3L450.4,290.7L452.8,296.9L456.8,301.1L460.4,303.7L461.3,304.5L459.7,305.0L457.6,302.9L454.3,299.8L451.8,299.5L448.4,300.6Z" fill="url(#hatch)" class="hs"/>
<path d="M459.7,305.0L461.3,304.5L462.1,306.3L461.8,307.6L461.3,308.9L458.5,307.1Z" fill="url(#hatch)" class="hs"/>
<path d="M445.9,300.3L448.4,300.6L451.8,299.5L454.3,299.8L457.6,302.9L459.7,305.0L458.5,307.1L461.3,308.9L463.7,314.1L472.8,316.7L466.3,324.6L461.3,326.4L459.2,327.2L452.5,328.5L450.2,328.2L445.6,325.9L444.0,324.6L443.3,323.3L438.6,317.3L441.1,315.2L440.8,312.8L441.4,310.2L442.9,306.8Z" fill="#b30000" class="cs"/>
<path d="M461.8,307.6L462.4,308.1L465.9,310.5L472.7,308.4L475.4,308.1L480.2,306.8L480.6,310.5L479.3,312.8L477.6,316.7L475.4,322.0L474.3,323.8L472.1,327.2L469.8,331.1L467.1,332.4L464.1,334.5L460.7,338.6L458.6,342.0L457.2,339.9L457.2,330.3L459.2,327.2L461.3,326.4L466.3,324.6L472.8,316.7L463.7,314.1L461.3,308.9Z" fill="#b30000" class="cs"/>
<path d="M458.6,342.0L456.9,343.6L454.1,348.3L453.0,349.9L449.3,345.4L440.9,340.2L440.9,337.3L441.3,335.0L442.9,331.1L441.0,326.6L444.0,324.6L445.6,325.9L450.2,328.2L452.5,328.5L459.2,327.2L457.2,330.3L457.2,339.9Z" fill="url(#hatch)" class="hs"/>
<path d="M441.0,326.6L442.9,331.1L441.3,335.0L440.9,337.3L440.9,340.2L433.7,340.2L431.0,341.3L431.7,336.3L434.8,331.9L433.7,328.5L434.1,328.0L438.7,327.7Z" fill="url(#hatch)" class="hs"/>
<path d="M453.0,349.9L453.1,355.3L453.5,358.5L454.9,364.5L455.4,365.0L448.6,367.8L442.7,367.6L440.8,362.4L438.3,362.1L433.3,359.2L430.2,349.1L433.2,346.7L432.8,343.9L433.7,340.2L440.9,340.2L449.3,345.4Z" fill="url(#hatch)" class="hs"/>
<path d="M431.0,341.3L433.7,340.2L432.8,343.9L429.5,344.9Z" fill="#fef0d9" class="cs"/>
<path d="M429.5,344.9L432.8,343.9L433.2,346.7L430.2,349.1Z" fill="#fdd49e" class="cs"/>
<path d="M390.8,353.2L392.7,353.0L400.7,353.0L400.9,357.2L404.1,358.5L407.6,355.9L412.9,356.6L412.8,362.4L413.6,366.8L417.8,366.3L420.7,366.8L422.3,368.6L425.1,367.8L426.8,369.9L429.0,372.5L430.9,372.5L431.0,369.4L428.3,367.6L428.1,363.7L429.1,359.8L433.3,359.2L430.2,349.1L429.5,344.9L431.0,341.3L431.7,336.3L434.8,331.9L433.7,328.5L430.7,326.1L425.8,324.3L419.2,324.6L414.6,326.6L408.8,326.4L405.6,328.5L404.0,335.0L403.6,338.9L400.1,342.8L398.0,348.8L395.0,349.3L392.9,349.6L392.2,350.6L391.1,352.5Z" fill="#fdd49e" class="cs"/>
<path d="M388.3,347.8L389.9,350.1L390.9,350.6L391.1,352.5L392.2,350.6L392.9,349.6L395.0,349.3L398.0,348.8L400.1,342.8L403.6,338.9L404.0,335.0L405.6,328.5L403.1,328.0L400.1,331.9L393.4,331.9L392.7,334.2L396.0,337.6L394.8,341.5L395.9,343.3L391.6,343.9L389.5,346.7Z" fill="url(#hatch)" class="hs"/>
<path d="M384.4,335.0L388.8,335.0L388.8,331.9L393.4,331.9L392.7,334.2L396.0,337.6L394.8,341.5L395.9,343.3L391.6,343.9L389.5,346.7L388.3,347.8L385.8,345.2L383.5,341.3L382.8,339.2L384.4,336.6Z" fill="url(#hatch)" class="hs"/>
<path d="M385.4,331.6L388.8,331.9L388.8,335.0L384.4,335.0Z" fill="url(#hatch)" class="hs"/>
<path d="M390.8,353.2L393.1,360.5L393.7,369.9L390.6,377.2L389.6,382.7L393.5,381.9L404.8,383.0L410.0,384.5L415.9,383.5L412.9,379.8L413.1,371.5L417.6,371.5L417.8,366.3L413.6,366.8L412.8,362.4L412.9,356.6L407.6,355.9L404.1,358.5L400.9,357.2L400.7,353.0L392.7,353.0Z" fill="url(#hatch)" class="hs"/>
<path d="M417.8,366.3L417.6,371.5L413.1,371.5L412.9,379.8L415.9,383.5L420.0,384.0L424.1,384.3L428.6,379.3L432.1,378.3L438.6,374.1L437.5,373.1L439.0,369.7L439.1,363.7L438.3,362.1L433.3,359.2L429.1,359.8L428.1,363.7L428.3,367.6L431.0,369.4L430.9,372.5L429.0,372.5L426.8,369.9L425.1,367.8L422.3,368.6L420.7,366.8Z" fill="#fdd49e" class="cs"/>
<path d="M438.3,362.1L439.1,363.7L439.0,369.7L437.5,373.1L438.6,374.1L441.5,375.4L443.0,382.2L444.5,379.3L444.5,375.4L442.5,372.8L442.0,368.9L442.7,367.6L440.8,362.4Z" fill="#fef0d9" class="cs"/>
<path d="M455.4,365.0L455.4,371.5L455.7,375.4L453.8,380.6L446.8,384.3L441.8,389.2L442.6,395.0L442.5,399.7L436.7,403.8L435.7,405.4L436.2,407.7L434.4,407.5L434.3,405.4L434.4,401.5L433.3,396.0L436.2,392.4L437.3,387.1L437.6,381.4L432.1,378.3L438.6,374.1L441.5,375.4L443.0,382.2L444.5,379.3L444.5,375.4L442.5,372.8L442.0,368.9L442.7,367.6L448.6,367.8Z" fill="url(#hatch)" class="hs"/>
<path d="M420.0,384.0L424.1,384.3L428.6,379.3L432.1,378.3L437.6,381.4L437.3,387.1L436.2,392.4L433.3,396.0L429.0,395.5L426.0,393.1L424.5,391.1L421.7,387.1Z" fill="#fdd49e" class="cs"/>
<path d="M420.0,384.0L421.7,387.1L424.5,391.1L426.0,393.1L429.0,395.5L424.6,398.9L421.1,402.0L417.6,404.9L412.0,405.4L407.6,402.3L407.9,395.0L410.1,395.0L410.4,385.3Z" fill="#fef0d9" class="cs"/>
<path d="M389.6,382.7L392.2,389.7L395.4,397.3L396.7,407.0L399.4,412.2L407.2,411.7L407.6,402.3L407.9,395.0L410.1,395.0L410.4,385.3L420.0,384.0L415.9,383.5L410.0,384.5L404.8,383.0L393.5,381.9Z" fill="url(#hatch)" class="hs"/>
<path d="M399.4,412.2L401.0,417.1L402.2,422.3L402.9,426.0L406.3,428.3L411.8,426.3L418.6,426.3L424.1,422.9L431.4,415.6L434.0,412.7L436.2,407.7L434.3,405.4L434.4,401.5L433.3,396.0L429.0,395.5L424.6,398.9L421.1,402.0L417.6,404.9L412.0,405.4L407.6,402.3L407.2,411.7Z" fill="url(#hatch)" class="hs"/>
<path d="M422.6,414.8L425.6,412.4L427.9,414.5L426.9,416.6L424.1,417.4L422.5,415.6Z" fill="#fdbb84" class="cs"/>
<path d="M432.1,404.9L434.3,405.4L434.4,407.5L432.5,408.8L431.5,406.7Z" fill="url(#hatch)" class="hs"/>
<path d="M387.9,251.0L391.7,251.8L396.1,253.1L399.3,256.2L403.7,258.6L406.9,256.8L406.9,253.9L409.8,251.8L412.3,252.1L415.5,253.9L417.8,255.2L419.1,280.2L419.4,285.5L417.1,285.5L417.1,286.8L396.5,277.6L394.3,277.6L389.5,276.3L385.2,273.7L385.6,268.5L383.8,258.9L385.2,254.7Z" fill="url(#hatch)" class="hs"/>
<path d="M475.6,368.9L477.9,378.0L475.2,383.2L471.0,395.0L468.4,402.8L463.5,404.1L461.0,398.9L460.5,393.7L463.2,387.1L462.8,381.9L468.7,378.8L472.4,373.1Z" fill="#b30000" class="cs"/>
<path d="M539.2,209.8L546.1,212.8L549.3,217.9L555.9,220.7L564.4,226.4L573.7,226.6L583.7,229.2L588.0,227.2L595.3,223.8L598.9,219.9L602.9,216.4L607.0,215.4L599.1,209.0L600.8,206.5L598.9,201.2L603.1,199.0L609.3,200.7L618.0,208.2L625.9,210.5L635.1,212.1L636.4,216.6L637.1,220.5L634.0,220.7L636.7,225.6L636.4,227.2L633.3,227.7L631.7,228.4L629.1,229.5L627.0,233.6L623.4,234.6L622.2,236.2L621.3,234.6L621.5,232.1L618.7,231.3L616.7,233.9L613.8,235.9L616.4,238.0L618.1,239.3L619.8,240.9L623.4,239.8L626.4,240.1L622.9,243.5L621.9,245.6L624.5,248.2L627.5,252.3L630.7,254.9L631.4,256.8L630.1,258.6L632.7,259.9L632.5,263.3L631.1,264.6L630.1,268.0L630.1,269.8L628.6,272.7L627.6,274.0L625.2,276.8L621.6,278.4L620.0,279.5L618.5,279.7L615.4,281.0L612.2,282.3L612.0,284.7L610.3,281.5L607.5,281.3L606.4,281.5L603.3,280.2L600.0,276.8L594.7,278.7L592.7,279.2L591.8,278.9L591.1,281.8L588.6,281.5L585.7,278.9L585.9,275.8L584.2,274.8L582.0,275.3L581.8,271.6L582.5,265.9L579.0,264.1L575.4,260.9L572.3,262.0L567.4,265.1L561.7,264.3L560.6,266.4L558.7,264.9L554.0,264.6L549.0,262.0L541.8,258.9L536.7,256.0L534.8,252.9L536.4,250.2L533.6,247.6L531.4,245.0L528.2,243.7L525.3,241.4L523.8,240.6L521.0,237.2L519.6,234.6L521.7,232.6L525.0,231.0L528.1,229.5L531.1,227.9L530.3,225.9L528.9,220.7L532.9,219.4L531.8,214.9L537.0,215.1L536.8,211.5Z" fill="url(#hatch)" class="hs"/>
<path d="M633.9,272.2L636.0,272.4L635.9,276.3L635.1,280.5L633.0,277.6L632.6,274.5Z" fill="url(#hatch)" class="hs"/>
<path d="M608.8,287.5L612.7,285.2L614.1,286.5L612.7,289.6L610.8,290.1Z" fill="url(#hatch)" class="hs"/>
<path d="M633.3,239.3L634.9,237.8L637.1,237.0L641.1,240.9L642.7,243.7L642.8,246.1L640.1,247.4L637.5,246.9L636.2,243.7L634.6,239.8Z" fill="url(#hatch)" class="hs"/>
<path d="M467.4,237.5L465.3,236.5L462.9,235.4L462.0,235.9L458.5,234.1L458.0,234.1L457.1,234.9L457.1,238.5L459.1,240.6L460.1,243.7L462.6,246.1L461.7,248.9L463.9,251.6L467.0,253.6L468.3,256.8L468.7,258.1L470.3,259.4L473.8,259.4L475.5,262.2L477.1,264.9L479.9,266.2L482.1,267.7L485.1,268.5L488.2,266.7L490.2,267.7L492.1,270.8L494.4,270.8L498.5,271.6L500.8,271.9L500.9,269.3L503.8,266.7L502.3,264.1L499.2,262.0L497.5,259.9L499.1,257.3L497.0,255.5L495.5,250.2L494.4,247.6L495.3,244.8L492.1,242.2L489.9,239.8L485.8,238.5L481.5,238.5L478.8,240.1L478.8,241.4L472.6,241.7L469.1,239.8Z" fill="url(#hatch)" class="hs"/>
<path d="M497.5,259.9L499.1,257.3L497.0,255.5L495.5,250.2L494.4,247.6L495.3,244.8L497.9,245.6L499.5,244.0L502.0,243.0L503.9,239.8L508.6,240.6L510.9,240.4L513.5,239.6L516.0,238.8L516.2,241.1L518.8,241.1L523.8,240.6L523.1,241.1L519.2,242.4L516.7,243.7L518.1,245.8L517.5,248.9L515.1,248.9L516.4,250.8L515.4,254.4L512.8,255.5L509.7,259.6L501.2,260.9Z" fill="#fc8d59" class="cs"/>
<path d="M500.8,271.9L502.4,272.2L507.3,271.9L511.7,271.4L513.0,272.9L514.4,275.0L516.0,275.8L518.8,274.2L522.1,274.0L520.5,270.6L519.0,268.2L520.7,264.9L523.4,262.2L525.1,259.6L526.0,257.3L526.6,254.4L526.5,252.9L524.5,251.0L524.4,247.4L527.0,247.4L529.6,245.0L531.4,245.0L528.2,243.7L525.3,241.4L523.8,240.6L523.1,241.1L519.2,242.4L516.7,243.7L518.1,245.8L517.5,248.9L515.1,248.9L516.4,250.8L515.4,254.4L512.8,255.5L509.7,259.6L501.2,260.9L497.5,259.9L499.2,262.0L502.3,264.1L503.8,266.7L500.9,269.3Z" fill="#fc8d59" class="cs"/>
<path d="M516.0,275.8L518.2,279.5L520.8,282.3L523.2,283.6L526.6,281.5L527.1,284.1L527.8,288.1L528.8,292.0L531.0,297.2L533.8,304.0L536.4,308.4L537.5,311.5L540.7,316.5L542.2,314.4L544.3,310.7L545.9,310.7L545.5,307.6L546.3,303.4L545.6,298.0L547.3,296.4L550.0,294.1L551.9,291.4L554.9,287.5L557.0,286.0L559.0,284.1L559.1,281.5L561.7,281.0L563.5,281.0L565.7,280.5L567.6,278.1L569.6,279.5L570.4,281.8L571.3,283.6L571.5,280.5L572.4,278.4L572.5,275.0L574.2,275.5L574.6,271.6L575.5,268.2L577.1,266.4L579.0,264.1L575.4,260.9L572.3,262.0L567.4,265.1L561.7,264.3L560.6,266.4L558.7,264.9L554.0,264.6L549.0,262.0L541.8,258.9L536.7,256.0L534.8,252.9L536.4,250.2L533.6,247.6L531.4,245.0L529.6,245.0L527.0,247.4L524.4,247.4L524.5,251.0L526.5,252.9L526.6,254.4L526.0,257.3L525.1,259.6L523.4,262.2L520.7,264.9L519.0,268.2L520.5,270.6L522.1,274.0L518.8,274.2Z" fill="#fdd49e" class="cs"/>
<path d="M540.5,262.5L544.0,264.9L548.3,266.2L551.0,266.4L554.7,268.2L559.5,268.5L558.7,264.9L554.0,264.6L549.0,262.0L544.1,259.4L541.8,258.9Z" fill="#fdbb84" class="cs"/>
<path d="M560.6,266.4L561.3,267.7L567.9,267.5L567.7,265.1L566.7,264.9L561.7,264.3Z" fill="#fef0d9" class="cs"/>
<path d="M563.8,281.3L562.3,277.6L561.6,274.2L560.2,273.5L560.8,271.9L562.1,271.6L560.3,268.5L563.4,269.3L568.9,272.2L570.0,274.5L568.2,274.8L568.0,277.6L570.2,276.3L571.7,281.8L571.3,283.6L570.4,281.8L569.6,279.5L567.6,278.1L565.7,280.5Z" fill="#e34a33" class="cs"/>
<path d="M545.8,312.0L546.9,312.0L549.4,315.4L550.9,318.3L550.3,320.9L548.1,322.2L546.7,321.2L546.0,317.3L546.1,314.1Z" fill="url(#hatch)" class="hs"/>
<path d="M571.3,283.6L571.7,281.8L570.2,276.3L572.4,278.4L572.5,275.0L574.2,275.5L574.6,271.6L575.5,268.2L577.1,266.4L579.0,264.1L582.5,265.9L581.8,271.6L582.0,275.3L584.2,274.8L585.9,275.8L585.7,278.9L588.6,281.5L591.1,281.8L589.1,284.4L584.8,286.2L584.5,289.1L586.9,295.1L588.2,297.7L589.0,301.4L590.7,306.8L589.0,310.5L588.4,306.3L586.6,302.4L584.8,294.6L583.3,293.3L581.6,294.1L579.8,296.4L577.3,295.9L577.2,292.0L575.8,288.1L572.9,285.2Z" fill="url(#hatch)" class="hs"/>
<path d="M589.1,284.4L591.1,281.8L591.8,278.9L592.7,279.2L594.9,281.3L595.5,283.4L598.3,283.9L598.2,286.2L601.2,288.6L604.7,292.2L607.4,296.1L608.2,299.3L605.4,300.1L603.6,300.6L602.9,300.3L603.4,297.2L601.2,294.3L600.6,292.0L596.4,289.6L593.8,290.7L592.7,292.0L591.2,286.8L590.1,285.2Z" fill="#fc8d59" class="cs"/>
<path d="M460.2,294.8L460.4,299.0L461.5,302.9L462.2,304.5L465.7,304.2L470.1,302.4L474.8,299.8L481.7,296.9L483.6,294.3L480.6,288.1L473.9,289.1L469.7,293.5L463.9,292.2L461.6,292.5Z" fill="url(#hatch)" class="hs"/>
<path d="M440.4,244.0L440.4,245.0L440.9,247.3L442.0,247.6L441.0,250.8L440.8,252.3L443.5,253.4L447.5,250.5L452.0,247.9L452.2,244.8L453.8,240.9L448.8,240.9L444.6,241.7L441.8,241.7Z" fill="url(#hatch)" class="hs"/>
<path d="M648.1,248.9L649.5,247.1L650.9,245.0L656.9,244.8L656.8,240.4L659.8,239.1L659.9,233.6L658.7,231.3L660.8,229.7L662.7,232.6L664.9,234.6L664.4,237.8L666.1,241.4L667.1,244.5L666.5,246.6L664.6,247.4L660.7,247.4L659.8,250.5L657.5,249.2L656.6,247.4L653.3,247.9L650.6,249.2Z" fill="#fef0d9" class="cs"/>
<path d="M657.5,229.5L659.6,228.7L663.6,228.2L666.5,224.6L662.6,222.8L654.8,219.2L656.9,223.5L655.4,224.8L655.7,226.9Z" fill="#fef0d9" class="cs"/>
<path d="M646.3,251.0L648.4,249.2L651.0,251.3L652.1,255.7L650.5,256.8L648.5,253.9L647.0,252.3Z" fill="#fef0d9" class="cs"/>
<path d="M652.4,251.0L653.4,248.2L655.9,248.4L656.2,250.8L653.9,252.1Z" fill="#fef0d9" class="cs"/>
<path d="M654.1,217.9L656.2,216.6L650.5,210.3L645.8,204.0L638.8,197.0L641.7,201.5L649.0,211.5Z" fill="#fef0d9" class="cs"/>
<path d="M637.0,289.5L641.0,290.2L641.7,293.7L640.9,298.0L642.0,300.9L644.7,301.3L646.7,302.9L647.3,305.0L645.3,305.0L643.3,303.3L641.0,302.5L639.7,302.0L640.7,305.0L639.3,305.3L638.3,302.7L636.9,299.3L636.2,295.0L637.1,292.3Z" fill="#fdd49e" class="cs"/>
<path d="M643.7,318.3L647.0,316.0L649.7,314.3L652.0,313.0L653.7,315.0L654.3,319.7L652.3,321.0L651.7,323.3L649.7,322.3L648.0,319.0L645.7,318.7L644.0,319.7Z" fill="#fdd49e" class="cs"/>
<path d="M647.0,305.0L649.7,305.3L651.0,307.3L651.3,310.0L649.7,310.7L648.0,309.0L646.3,307.0Z" fill="#fdd49e" class="cs"/>
<path d="M642.3,307.3L645.0,308.0L647.0,310.0L646.3,313.0L645.0,314.3L644.0,311.7L643.0,309.7Z" fill="#fdd49e" class="cs"/>
<path d="M636.7,308.3L637.7,309.3L635.7,313.0L632.7,316.3L632.0,315.7L635.0,311.7Z" fill="#fdd49e" class="cs"/>
<path d="M581.9,323.0L587.0,324.0L593.7,331.1L596.5,333.2L601.2,336.3L601.8,340.2L606.7,345.9L606.3,352.7L603.0,353.0L598.2,348.0L595.3,344.1L590.8,337.6L589.6,333.2L586.0,329.3L582.2,325.3Z" fill="#fef0d9" class="cs"/>
<path d="M605.9,353.5L611.8,354.7L617.6,355.3L623.5,357.1L628.2,358.8L628.2,360.6L623.5,360.0L617.6,358.8L611.8,357.6L607.1,355.9Z" fill="#fef0d9" class="cs"/>
<path d="M613.8,333.7L615.1,332.4L619.4,330.8L624.0,328.5L628.0,324.0L631.1,319.6L633.3,320.9L637.2,324.0L634.3,326.1L633.4,329.3L634.3,335.0L636.8,335.3L633.4,339.7L631.3,341.5L630.9,345.4L629.7,348.0L626.4,348.6L622.8,345.9L620.1,346.7L616.4,345.2L616.1,341.0L613.9,337.6Z" fill="#fef0d9" class="cs"/>
<path d="M637.6,337.1L642.4,335.3L651.8,334.1L650.6,336.5L644.7,337.6L640.6,339.4L643.5,340.6L647.1,340.0L645.9,341.8L641.8,342.9L642.9,345.3L645.3,348.2L646.5,351.8L644.1,352.4L642.4,348.8L640.6,347.1L640.0,351.8L638.2,352.4L637.1,348.2L638.2,343.5L637.1,340.0Z" fill="#fef0d9" class="cs"/>
<path d="M664.4,341.3L667.5,338.6L671.4,339.9L673.5,346.2L679.4,341.5L687.3,344.4L686.3,361.3L683.0,358.7L679.5,359.5L681.0,355.3L676.8,349.3L671.1,347.5L668.3,348.0L666.6,345.2L670.1,343.6L665.5,342.8Z" fill="#fef0d9" class="cs"/>
<path d="M687.3,344.4L689.6,345.7L694.1,347.5L698.1,351.2L702.5,353.8L702.6,355.1L704.6,361.1L708.4,365.0L706.9,365.2L703.2,364.2L700.4,362.4L698.0,358.5L694.6,357.4L692.2,359.2L689.7,361.8L686.3,361.3Z" fill="#e34a33" class="cs"/>
<path d="M704.4,352.6L706.8,352.2L708.9,351.2L711.1,350.5L712.8,348.9L714.0,349.4L713.3,352.0L711.1,353.4L708.2,354.5L705.6,353.8Z" fill="#e34a33" class="cs"/>
<path d="M710.5,344.7L713.2,346.1L715.4,348.0L716.1,350.6L714.9,350.6L713.9,348.1L711.6,346.0Z" fill="#e34a33" class="cs"/>
<path d="M719.0,351.0L720.7,353.3L722.2,355.8L720.9,356.3L719.4,354.0L718.8,351.9Z" fill="#e34a33" class="cs"/>
<path d="M631.2,360.6L635.3,359.4L637.6,360.6L634.1,361.8Z" fill="#fef0d9" class="cs"/>
<path d="M638.8,360.6L645.3,359.4L645.3,361.2L640.0,361.8Z" fill="#fef0d9" class="cs"/>
<path d="M646.5,364.1L649.4,361.8L655.3,359.4L653.5,361.8L648.2,364.7Z" fill="#fef0d9" class="cs"/>
<path d="M637.1,362.9L640.6,364.1L638.8,364.9Z" fill="#fef0d9" class="cs"/>
<path d="M657.6,332.4L659.4,332.9L659.4,336.5L658.8,340.0L657.6,339.4L657.1,335.9Z" fill="#fef0d9" class="cs"/>
<path d="M658.2,345.3L662.4,345.3L664.7,347.6L662.4,348.2L658.8,347.1Z" fill="#fef0d9" class="cs"/>
<path d="M653.5,346.5L656.5,346.5L655.9,348.2L654.1,348.2Z" fill="#fef0d9" class="cs"/>
<path d="M618.6,395.0L620.3,394.4L626.5,391.3L636.8,388.4L640.1,384.5L643.6,382.7L649.1,375.4L654.2,374.9L658.6,376.7L660.5,370.5L663.6,368.9L666.3,367.6L673.6,369.4L675.4,369.7L671.8,376.2L675.8,379.3L680.7,383.5L685.2,378.0L686.5,370.5L689.3,365.5L690.8,370.7L690.9,375.4L694.1,376.7L693.9,385.8L699.2,390.5L701.0,396.3L705.4,403.6L703.6,412.4L699.9,418.4L692.6,426.0L686.5,432.8L684.6,435.4L678.5,437.2L674.4,439.5L672.6,437.4L665.4,437.7L663.4,435.4L663.7,430.7L663.5,428.9L664.2,423.6L660.8,427.6L658.1,428.9L657.9,428.3L658.5,423.6L656.1,423.1L650.9,419.7L643.6,421.6L634.0,423.6L626.7,425.7L619.0,428.9L613.1,427.0L616.8,421.0L617.4,414.5L617.3,406.7L617.2,402.8Z" fill="#fef0d9" class="cs"/>
<path d="M668.8,443.7L676.0,444.2L671.4,450.1L668.2,451.1L667.3,447.5Z" fill="#fef0d9" class="cs"/>
<path d="M738.6,427.3L740.2,431.5L740.5,435.4L745.7,435.9L741.8,439.8L738.3,441.9L731.4,446.0L731.0,445.0L734.4,441.6L733.1,439.8L736.8,436.7L737.9,429.6Z" fill="#fef0d9" class="cs"/>
<path d="M728.4,443.1L730.8,444.4L726.9,448.3L722.1,451.4L717.2,453.5L713.2,457.0L707.9,459.1L704.3,457.3L712.2,452.2L718.9,449.3L723.8,445.7Z" fill="#fef0d9" class="cs"/>
<path d="M733.7,390.3L739.0,395.7L737.7,395.5Z" fill="#fef0d9" class="cs"/>
<path d="M765.5,383.2L768.3,383.8L767.1,385.1Z" fill="#fef0d9" class="cs"/>
<path d="M722.3,355.9L729.6,359.2L724.4,358.5Z" fill="url(#hatch)" class="hs"/>
<path d="M729.8,361.6L733.0,364.5L730.8,363.4Z" fill="url(#hatch)" class="hs"/>
<path d="M742.5,376.7L743.8,378.0L742.4,378.8Z" fill="url(#hatch)" class="hs"/>
<path d="M128.4,161.1L104.2,182.4L107.1,183.1L108.0,185.1L113.1,183.6L113.9,186.8L113.0,192.8L112.8,195.3" class="bl"/>
<path d="M115.3,210.3L171.2,210.3L172.0,209.5L183.3,212.6L190.0,216.6L192.4,220.4L190.8,225.6L187.7,228.9L193.0,227.4L197.7,224.7L204.0,223.0L207.8,220.4L215.2,220.5L217.3,219.9L219.7,216.6L222.1,214.3L223.6,214.1L223.5,218.7L224.3,219.9" class="bl"/>
<path d="M106.2,252.9L111.6,252.3L118.5,256.0L124.7,256.0L128.8,254.7L131.5,260.4L134.4,262.0L138.2,259.9L141.3,265.9L145.5,270.1" class="bl"/>
<path d="M160.4,291.1L162.6,289.4" class="bl"/>
<path d="M161.9,296.7L158.9,300.0L162.2,302.7" class="bl"/>
<path d="M173.1,298.5L170.1,299.3L166.4,301.6L163.3,303.8" class="bl"/>
<path d="M166.5,308.7L171.1,309.2" class="bl"/>
<path d="M172.5,316.7L173.4,312.8" class="bl"/>
<path d="M199.6,306.8L196.8,308.7L195.4,312.8L196.5,318.3L201.8,319.3L207.7,321.4L206.8,325.9L207.7,331.9L208.8,334.5" class="bl"/>
<path d="M208.8,334.5L213.1,335.3L215.5,331.9L217.2,327.4L222.5,325.9L223.2,324.0L221.7,322.2L225.1,315.4" class="bl"/>
<path d="M223.2,324.0L225.2,325.9L225.6,331.1L228.6,333.7L232.7,332.6L231.2,329.0L231.4,322.1" class="bl"/>
<path d="M232.7,332.6L236.2,331.1L238.3,332.1" class="bl"/>
<path d="M208.8,334.5L207.9,332.4L201.6,334.5L203.0,337.9L201.6,341.5L202.0,348.6" class="bl"/>
<path d="M202.0,348.6L198.2,344.1L193.6,340.7L189.6,337.9L185.5,336.6L181.4,333.9" class="bl"/>
<path d="M189.6,337.9L188.7,341.5L183.8,345.4L181.8,349.6L178.0,346.5" class="bl"/>
<path d="M202.0,348.6L195.2,351.4L194.0,357.2L196.5,362.4L200.9,362.4L201.1,366.3L203.4,366.2" class="bl"/>
<path d="M203.1,385.4L204.9,383.2" class="bl"/>
<path d="M211.6,397.1L209.3,402.8L209.8,410.6L208.6,418.4L210.8,428.9L210.7,436.7L212.1,447.0L214.6,453.5L216.1,459.8L215.9,467.5L219.5,471.2L223.0,472.5L228.1,473.2" class="bl"/>
<path d="M221.8,395.5L226.9,399.7L231.9,404.1L233.8,403.8L232.2,408.5L238.1,408.8L240.6,404.4" class="bl"/>
<path d="M240.6,404.4L240.9,400.2L237.6,396.3L232.3,395.2L231.1,389.2" class="bl"/>
<path d="M240.6,404.4L242.8,405.9L238.6,409.3L235.5,416.3" class="bl"/>
<path d="M235.5,416.3L239.4,418.4L246.1,425.5" class="bl"/>
<path d="M235.5,416.3L235.3,422.3L235.5,426.3" class="bl"/>
<path d="M344.1,228.4L345.6,227.9L348.9,228.4L348.2,230.8L347.9,234.4L346.8,234.9L347.8,238.0L346.9,240.6" class="bl"/>
<path d="M359.1,224.6L362.8,226.4L365.9,226.9L369.5,227.2" class="bl"/>
<path d="M374.4,209.0L375.6,209.0L379.3,210.3L378.2,213.8" class="bl"/>
<path d="M377.2,218.2L376.4,220.2L378.4,223.5" class="bl"/>
<path d="M375.1,206.5L375.2,207.5L375.6,209.0" class="bl"/>
<path d="M376.8,199.5L376.5,202.0L374.6,203.0" class="bl"/>
<path d="M397.2,162.2L401.5,163.4L404.7,162.9L405.9,160.5L409.1,160.2L411.3,162.5L413.9,160.7" class="bl"/>
<path d="M411.3,162.5L413.9,165.8L413.9,169.2L415.8,173.8L419.2,176.6L416.5,180.8L413.7,182.0" class="bl"/>
<path d="M408.4,188.2L414.2,189.2" class="bl"/>
<path d="M414.5,184.3L414.3,188.0L414.2,189.2L416.5,192.3L413.6,193.6" class="bl"/>
<path d="M403.0,192.6L408.4,192.1L413.6,193.6L412.5,197.0L408.4,198.0" class="bl"/>
<path d="M403.5,194.8L406.7,195.5L408.2,197.0" class="bl"/>
<path d="M400.7,196.8L406.9,196.8L408.4,198.0L409.6,201.0L409.4,203.7L410.2,203.7" class="bl"/>
<path d="M416.5,192.3L421.9,193.8L424.5,198.3L425.4,202.5" class="bl"/>
<path d="M390.5,198.0L391.4,201.2L392.6,205.2L387.7,207.0L387.9,209.0L390.6,210.8L389.2,214.1L384.1,214.1L382.3,214.1" class="bl"/>
<path d="M392.6,205.2L395.7,206.5L398.8,207.7L400.5,209.0L403.9,209.3L408.2,210.0" class="bl"/>
<path d="M379.4,195.5L381.9,195.8" class="bl"/>
<path d="M390.6,210.8L393.0,210.3L396.9,211.3L400.5,209.0" class="bl"/>
<path d="M396.9,211.3L397.6,212.8L396.3,214.1L395.7,215.9L390.8,216.6L387.6,215.1L384.2,215.6" class="bl"/>
<path d="M390.8,216.6L390.7,218.4" class="bl"/>
<path d="M390.8,219.2L394.3,219.2L396.5,216.6" class="bl"/>
<path d="M397.6,212.8L401.3,212.6L407.6,211.8" class="bl"/>
<path d="M396.5,216.6L401.4,218.2L404.4,217.4L406.6,215.4L409.2,213.1" class="bl"/>
<path d="M416.6,212.1L420.1,215.6L420.8,219.2" class="bl"/>
<path d="M404.4,217.4L407.0,221.0L409.9,222.5L413.7,223.8L418.8,222.8L422.3,223.8" class="bl"/>
<path d="M409.9,222.5L409.7,227.4L413.3,229.5L417.9,229.0L421.4,228.2" class="bl"/>
<path d="M417.9,229.0L417.7,231.3" class="bl"/>
<path d="M405.3,234.1L407.2,231.8L406.7,231.0L411.3,230.2L409.7,227.4" class="bl"/>
<path d="M403.5,228.4L404.9,226.6L406.1,228.4L406.7,231.0" class="bl"/>
<path d="M395.4,219.9L397.8,219.9L402.0,220.5L403.2,224.1L400.0,225.9" class="bl"/>
<path d="M402.0,220.5L404.4,217.4" class="bl"/>
<path d="M403.2,224.1L404.9,226.6L409.7,227.4" class="bl"/>
<path d="M450.3,229.2L454.6,230.5L458.0,234.1L457.8,240.6" class="bl"/>
<path d="M440.4,244.0L441.8,241.7L444.6,241.7L448.8,240.9L453.8,240.9L459.1,240.6" class="bl"/>
<path d="M445.9,224.6L450.3,224.8L454.8,226.4L460.5,228.4L464.7,228.7" class="bl"/>
<path d="M450.3,229.2L454.6,230.5L457.6,230.0L460.5,228.4" class="bl"/>
<path d="M457.6,230.0L462.0,235.9" class="bl"/>
<path d="M462.8,217.4L458.7,211.5L462.1,205.5L472.2,206.2L484.0,205.7L483.9,202.7L480.1,197.8L488.2,196.3L495.2,194.5L505.3,197.8L511.1,197.8L515.8,201.5L521.5,205.2L526.7,205.7L533.3,209.0L538.3,210.0" class="bl"/>
<path d="M539.2,209.8L542.0,206.5L550.7,207.7L555.7,202.7L564.7,204.5L576.7,207.7L586.6,209.3L591.3,207.2L595.8,208.0L599.1,209.0" class="bl"/>
<path d="M381.3,241.4L380.8,245.8L379.4,250.2L382.8,254.2L383.8,258.9" class="bl"/>
<path d="M438.3,256.0L440.1,260.7" class="bl"/>
<path d="M598.3,307.4L596.9,302.1L599.0,300.1L602.9,300.3" class="bl"/>
<path d="M608.2,299.3L608.5,303.7L605.6,306.8L603.3,309.2L602.3,310.5" class="bl"/>
<path d="M592.8,320.9L595.2,322.7L597.5,321.4" class="bl"/>
<path d="M483.6,294.3L488.8,285.5L487.7,278.4L488.5,275.0L489.2,272.7" class="bl"/>
<path d="M478.6,274.5L481.2,277.9L487.7,278.4" class="bl"/>
<path d="M465.9,261.7L470.3,263.3" class="bl"/>
<path d="M465.9,261.7L468.2,259.1L468.9,259.4" class="bl"/>
<path d="M448.4,254.2L454.1,256.0L461.9,261.5L465.9,261.7" class="bl"/>
<path d="M440.3,260.7L442.6,261.5L445.7,259.4L446.4,255.5L444.2,255.5L448.4,254.2L449.0,253.6L447.5,250.5" class="bl"/>
<path d="M440.3,260.7L440.9,255.5L440.8,252.3" class="bl"/>
<path d="M473.8,228.7L480.6,230.0L478.2,220.5L483.2,219.2L489.1,222.0L491.9,224.3L497.8,223.8L500.7,225.9L506.4,230.8L508.1,229.7L511.4,227.4L516.8,227.2L521.0,226.1L526.8,225.9L530.3,225.9" class="bl"/>
<path d="M480.6,230.0L484.0,230.0L485.5,226.9L488.6,227.7L491.6,230.8L495.5,233.6L500.4,236.2L505.9,240.1" class="bl"/>
<path d="M508.6,240.6L508.9,237.0L506.4,234.6L509.3,231.5L512.0,230.8L514.3,232.6L511.3,233.1L518.2,234.9L519.6,234.6" class="bl"/>
<path d="M511.4,227.4L513.5,230.0L517.1,231.3L515.5,232.8L512.0,230.8" class="bl"/>
<path d="M633.3,239.3L637.1,237.0" class="bl"/>
<path d="M615.1,332.6L618.4,335.0L621.8,333.7L626.4,333.7L628.6,329.8L629.7,326.4L633.4,326.6" class="bl"/>
</g>
<g id="legend">
<rect x="216" y="537" width="47" height="11" fill="url(#hatch)" stroke="#c9c9c9" stroke-width="0.7"/>
<line x1="239.5" y1="534" x2="239.5" y2="537" stroke="#999" stroke-width="0.7"/>
<path d="M283,542.5 L287.6,537 L341.3,537 L341.3,548 L287.6,548 Z" fill="#b30000"/>
<rect x="341.3" y="537" width="58.6" height="11" fill="#e34a33"/>
<rect x="399.9" y="537" width="58.6" height="11" fill="#fc8d59"/>
<rect x="458.5" y="537" width="58.6" height="11" fill="#fdbb84"/>
<rect x="517.1" y="537" width="58.6" height="11" fill="#fdd49e"/>
<rect x="575.7" y="537" width="58.6" height="11" fill="#fef0d9" stroke="#c9c3bc" stroke-width="0.5"/>
<g stroke="#8a8a8a" stroke-width="0.7">
<line x1="341.3" y1="534" x2="341.3" y2="548"/>
<line x1="399.9" y1="534" x2="399.9" y2="548"/>
<line x1="458.5" y1="534" x2="458.5" y2="548"/>
<line x1="517.1" y1="534" x2="517.1" y2="548"/>
<line x1="575.7" y1="534" x2="575.7" y2="548"/>
<line x1="634.3" y1="534" x2="634.3" y2="548"/>
</g>
</g>
</svg>
<div class="t lg" style="left:239.5px;top:517.5px">No data</div>
<div class="t lg" style="left:341.3px;top:517.5px">50%</div>
<div class="t lg" style="left:399.9px;top:517.5px">60%</div>
<div class="t lg" style="left:458.5px;top:517.5px">70%</div>
<div class="t lg" style="left:517.1px;top:517.5px">80%</div>
<div class="t lg" style="left:575.7px;top:517.5px">90%</div>
<div class="t lg" style="left:634.3px;top:517.5px">100%</div>
<div class="t foot" style="left:16px;letter-spacing:0.075px"><b style="color:#5b5b5b;letter-spacing:-0.3px">Data source:</b> Demographic and Health Surveys (DHS) and UNICEF, via World Bank (2026)</div>
<div class="t foot" style="left:555.3px;letter-spacing:0.289px">OurWorldinData.org/maternal-mortality | CC BY</div>
</body></html>
